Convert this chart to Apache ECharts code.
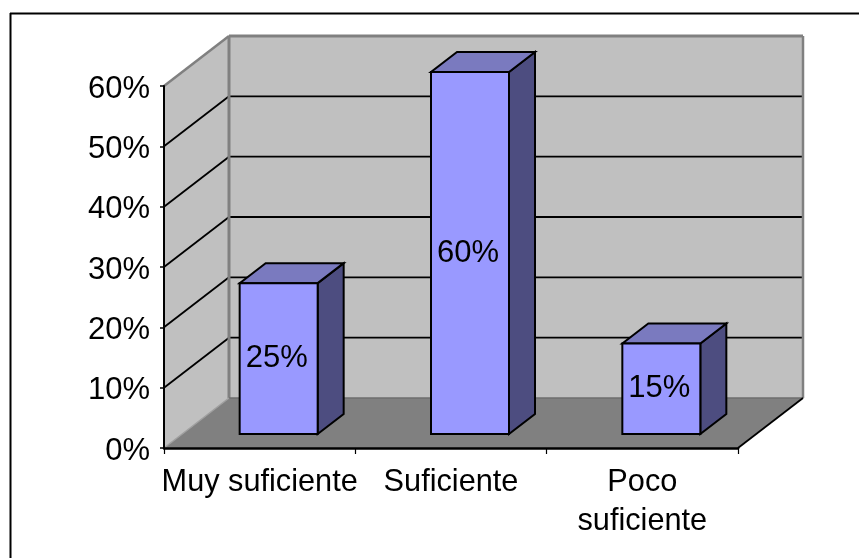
<!DOCTYPE html>
<html>
<head>
<meta charset="utf-8">
<style>html,body{margin:0;padding:0;background:#fff}#c{width:859px;height:558px}</style>
<script src="https://cdn.jsdelivr.net/npm/echarts@6/dist/echarts.min.js"></script>
</head>
<body>
<div id="c"></div>
<script>
var categories = ['Muy suficiente', 'Suficiente', 'Poco\nsuficiente'];
var values = [25, 60, 15];
var yTicks = [0, 10, 20, 30, 40, 50, 60];

var FAMILY = '"Liberation Sans", Arial, sans-serif';
var WALL_DX = 65, WALL_DY = -50;
var BAR_DX = 26, BAR_DY = -20;
var INSET_DX = 19, INSET_DY = -14;
var BAR_W = 78;

function poly(points, fill, stroke, lw) {
  return { type: 'polygon', shape: { points: points },
    style: { fill: fill, stroke: stroke || null, lineWidth: lw || 0, lineJoin: 'miter' } };
}
function seg(x1, y1, x2, y2, color, lw) {
  return { type: 'line', shape: { x1: x1, y1: y1, x2: x2, y2: y2 },
    style: { stroke: color, lineWidth: lw, fill: null } };
}

function renderWalls(params, api) {
  var cs = params.coordSys;
  var L = cs.x, R = cs.x + cs.width;
  var y0 = api.coord([0, 0])[1], yT = api.coord([0, 60])[1];
  var kids = [
    poly([[L, y0], [L + WALL_DX, y0 + WALL_DY], [L + WALL_DX, yT + WALL_DY], [L, yT]], '#C0C0C0'),
    poly([[L + WALL_DX, y0 + WALL_DY], [R + WALL_DX, y0 + WALL_DY], [R + WALL_DX, yT + WALL_DY], [L + WALL_DX, yT + WALL_DY]], '#C0C0C0'),
    poly([[L, y0], [R, y0], [R + WALL_DX, y0 + WALL_DY], [L + WALL_DX, y0 + WALL_DY]], '#808080')
  ];
  yTicks.forEach(function (t) {
    if (t === 0 || t === 60) return;
    var y = api.coord([0, t])[1];
    kids.push(seg(L, y, L + WALL_DX, y + WALL_DY, '#000', 1.8));
    kids.push(seg(L + WALL_DX, y + WALL_DY, R + WALL_DX, y + WALL_DY, '#000', 1.8));
  });
  var G = '#808080';
  kids.push(seg(L, yT, L + WALL_DX, yT + WALL_DY, G, 2.5));
  kids.push(seg(L + WALL_DX, yT + WALL_DY, R + WALL_DX, yT + WALL_DY, G, 3));
  kids.push(seg(L + WALL_DX, yT + WALL_DY, L + WALL_DX, y0 + WALL_DY, G, 3));
  kids.push(seg(R + WALL_DX, yT + WALL_DY, R + WALL_DX, y0 + WALL_DY, G, 2.5));
  kids.push(seg(L + WALL_DX, y0 + WALL_DY, R + WALL_DX, y0 + WALL_DY, '#6e6e6e', 1.5));
  kids.push(seg(L, y0, L + WALL_DX, y0 + WALL_DY, '#a0a0a0', 1.5));
  kids.push(seg(R, y0, R + WALL_DX, y0 + WALL_DY, '#000', 1.8));
  return { type: 'group', children: kids };
}

function renderBar(params, api) {
  var base = api.coord([api.value(0), 0]);
  var top = api.coord([api.value(0), api.value(1)]);
  var cx = base[0] + INSET_DX;
  var x0 = cx - BAR_W / 2, x1 = cx + BAR_W / 2;
  var yb = base[1] + INSET_DY, yt = top[1] + INSET_DY;
  var S = '#000', W = 2;
  return { type: 'group', children: [
    poly([[x1, yb], [x1 + BAR_DX, yb + BAR_DY], [x1 + BAR_DX, yt + BAR_DY], [x1, yt]], '#4D4D80', S, W),
    poly([[x0, yt], [x1, yt], [x1 + BAR_DX, yt + BAR_DY], [x0 + BAR_DX, yt + BAR_DY]], '#7A7ABF', S, W),
    poly([[x0, yb], [x1, yb], [x1, yt], [x0, yt]], '#9999FF', S, W),
    { type: 'text', style: { text: api.value(1) + '%', x: cx - 2, y: (yb + yt) / 2, align: 'center',
        verticalAlign: 'middle', fontFamily: FAMILY, fontSize: 31, fill: '#000' } }
  ] };
}

var chart = echarts.init(document.getElementById('c'), null, { renderer: 'canvas' });
chart.setOption({
  animation: false,
  backgroundColor: '#fff',
  grid: { left: 164, top: 86, width: 574, height: 362, containLabel: false },
  graphic: [
    { type: 'line', silent: true, shape: { x1: 10, y1: 13.5, x2: 859, y2: 13.5 }, style: { stroke: '#000', lineWidth: 2 } },
    { type: 'line', silent: true, shape: { x1: 10.5, y1: 13, x2: 10.5, y2: 558 }, style: { stroke: '#000', lineWidth: 2 } }
  ],
  xAxis: {
    type: 'category', data: categories, z: 5,
    axisLine: { show: true, lineStyle: { color: '#000', width: 2.5 } },
    axisTick: { show: true, length: 6, lineStyle: { color: '#000', width: 1.2 } },
    axisLabel: { color: '#000', fontFamily: FAMILY, fontSize: 30.7, lineHeight: 39, margin: 15, interval: 0 },
    splitLine: { show: false }
  },
  yAxis: {
    type: 'value', min: 0, max: 60, interval: 10, z: 5,
    axisLine: { show: true, lineStyle: { color: '#000', width: 2 } },
    axisTick: { show: true, length: 4, lineStyle: { color: '#000', width: 1.5 } },
    axisLabel: { margin: 14, formatter: '{t|{value}%}',
      rich: { t: { color: '#000', fontFamily: FAMILY, fontSize: 31, lineHeight: 36, padding: [6, 0, 0, 0] } } },
    splitLine: { show: false }
  },
  series: [
    { type: 'custom', silent: true, z: 1, renderItem: renderWalls, data: [[0, 0]], encode: { x: 0, y: 1 } },
    { type: 'custom', silent: true, z: 3, renderItem: renderBar,
      data: values.map(function (v, i) { return [i, v]; }), encode: { x: 0, y: 1 } }
  ]
});
</script>
</body>
</html>
